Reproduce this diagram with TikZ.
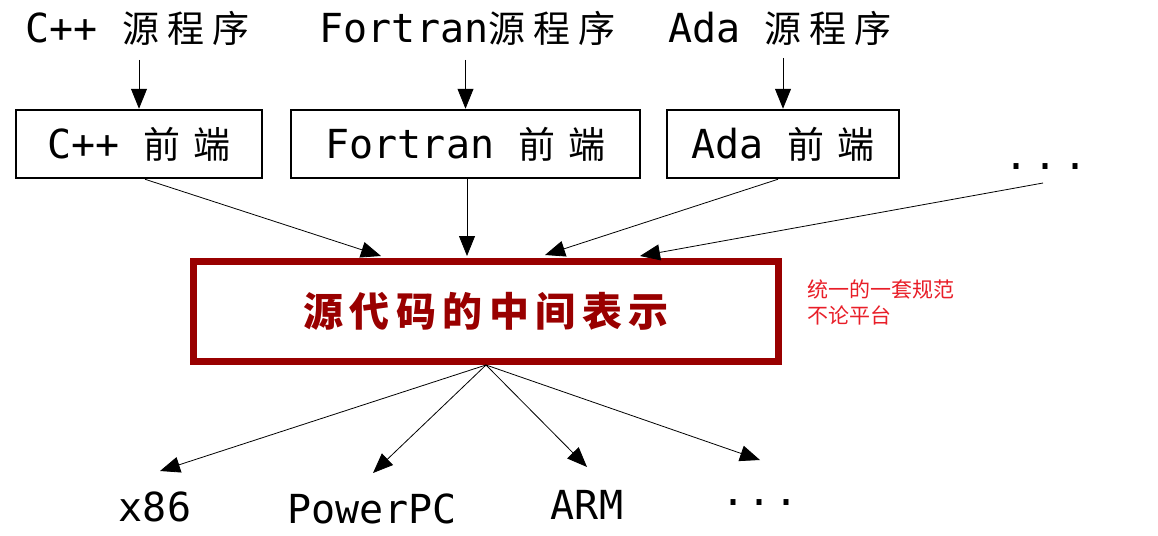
\documentclass[tikz,border=0pt]{standalone}
\usepackage{fontspec}
\setmainfont{DejaVu Sans Mono}
\newfontfamily\cjk{Noto Sans CJK SC}
\usetikzlibrary{arrows.meta}
\definecolor{darkred}{RGB}{153,0,0}
\definecolor{notered}{RGB}{232,30,40}
\newcommand\gp{\hspace{8pt}}
\newcommand\gq{\hspace{13pt}}
\newcommand\cjs[1]{{\cjk\fontsize{37}{44}\selectfont #1}}
\begin{document}
\begin{tikzpicture}[x=1pt,y=-1pt,
  lbl/.style={inner sep=0pt, font=\fontsize{40}{48}\selectfont},
  febox/.style={draw, line width=2.5pt, minimum height=68pt, inner sep=0pt, font=\fontsize{40}{48}\selectfont},
  arr/.style={line width=0.8pt, -{Triangle[length=20pt,width=16pt]}}]
\useasboundingbox (0,0) rectangle (1158,535);
% sources
\node[lbl, anchor=base] (cppsrc) at (137.5,42) {C++ \cjs{源\gp 程\gp 序}};
\node[lbl, anchor=base] (ftnsrc) at (467.5,42) {Fortran\cjs{源\gp 程\gp 序}};
\node[lbl, anchor=base] (adasrc) at (780,42) {Ada \cjs{源\gp 程\gp 序}};
% front ends
\node[febox, minimum width=246pt] (cppfe) at (139,144) {C++ \cjs{前\gq 端}};
\node[febox, minimum width=349pt] (ftnfe) at (465.5,144) {Fortran \cjs{前\gq 端}};
\node[febox, minimum width=232pt] (adafe) at (783,144) {Ada \cjs{前\gq 端}};
\node[lbl] (topdots) at (1046,167) {.\hspace{5pt}.\hspace{5pt}.};
% IR
\node[draw=darkred, line width=7pt, minimum width=585pt, minimum height=100pt, inner sep=0pt,
      text=darkred, font=\cjk\bfseries\fontsize{40}{46}\selectfont] (mid) at (486,311.5)
      {源\hspace{6.5pt}代\hspace{6.5pt}码\hspace{6.5pt}的\hspace{6.5pt}中\hspace{6.5pt}间\hspace{6.5pt}表\hspace{6.5pt}示};
\node[anchor=west, inner sep=0pt, align=left, text=notered, font=\cjk\fontsize{21}{26}\selectfont] (note) at (807,302) {统一的一套规范\\不论平台};
% targets
\node[lbl] (x86) at (155,507) {x86};
\node[lbl] (ppc) at (372,509) {PowerPC};
\node[lbl] (arm) at (587,505) {ARM};
\node[lbl] (botdots) at (760,503) {.\hspace{2pt}.\hspace{2pt}.};
% coordinates of arrow tips
\coordinate (in1) at (381,256);
\coordinate (in2) at (467,256);
\coordinate (in3) at (545,255);
\coordinate (in4) at (640,256);
\coordinate (t1) at (160,471);
\coordinate (t2) at (373,473);
\coordinate (t3) at (587,467);
\coordinate (t4) at (760,460);
\coordinate (dotsfoot) at (1043,183);
% arrows source -> front end
\draw[arr] ([yshift=-18pt]cppsrc.base -| cppfe.north) -- (cppfe.north);
\draw[arr] ([yshift=-18pt]ftnsrc.base -| ftnfe.north) -- (ftnfe.north);
\draw[arr] ([yshift=-16pt]adasrc.base -| adafe.north) -- (adafe.north);
% front end -> IR
\draw[arr] ([xshift=6pt]cppfe.south) -- (in1);
\draw[arr] (ftnfe.south -| in2) -- (in2);
\draw[arr] ([xshift=-5pt]adafe.south) -- (in3);
\draw[arr] (dotsfoot) -- (in4);
% IR -> targets
\draw[arr] (mid.south) -- (t1);
\draw[arr] (mid.south) -- (t2);
\draw[arr] (mid.south) -- (t3);
\draw[arr] (mid.south) -- (t4);
\end{tikzpicture}
\end{document}
